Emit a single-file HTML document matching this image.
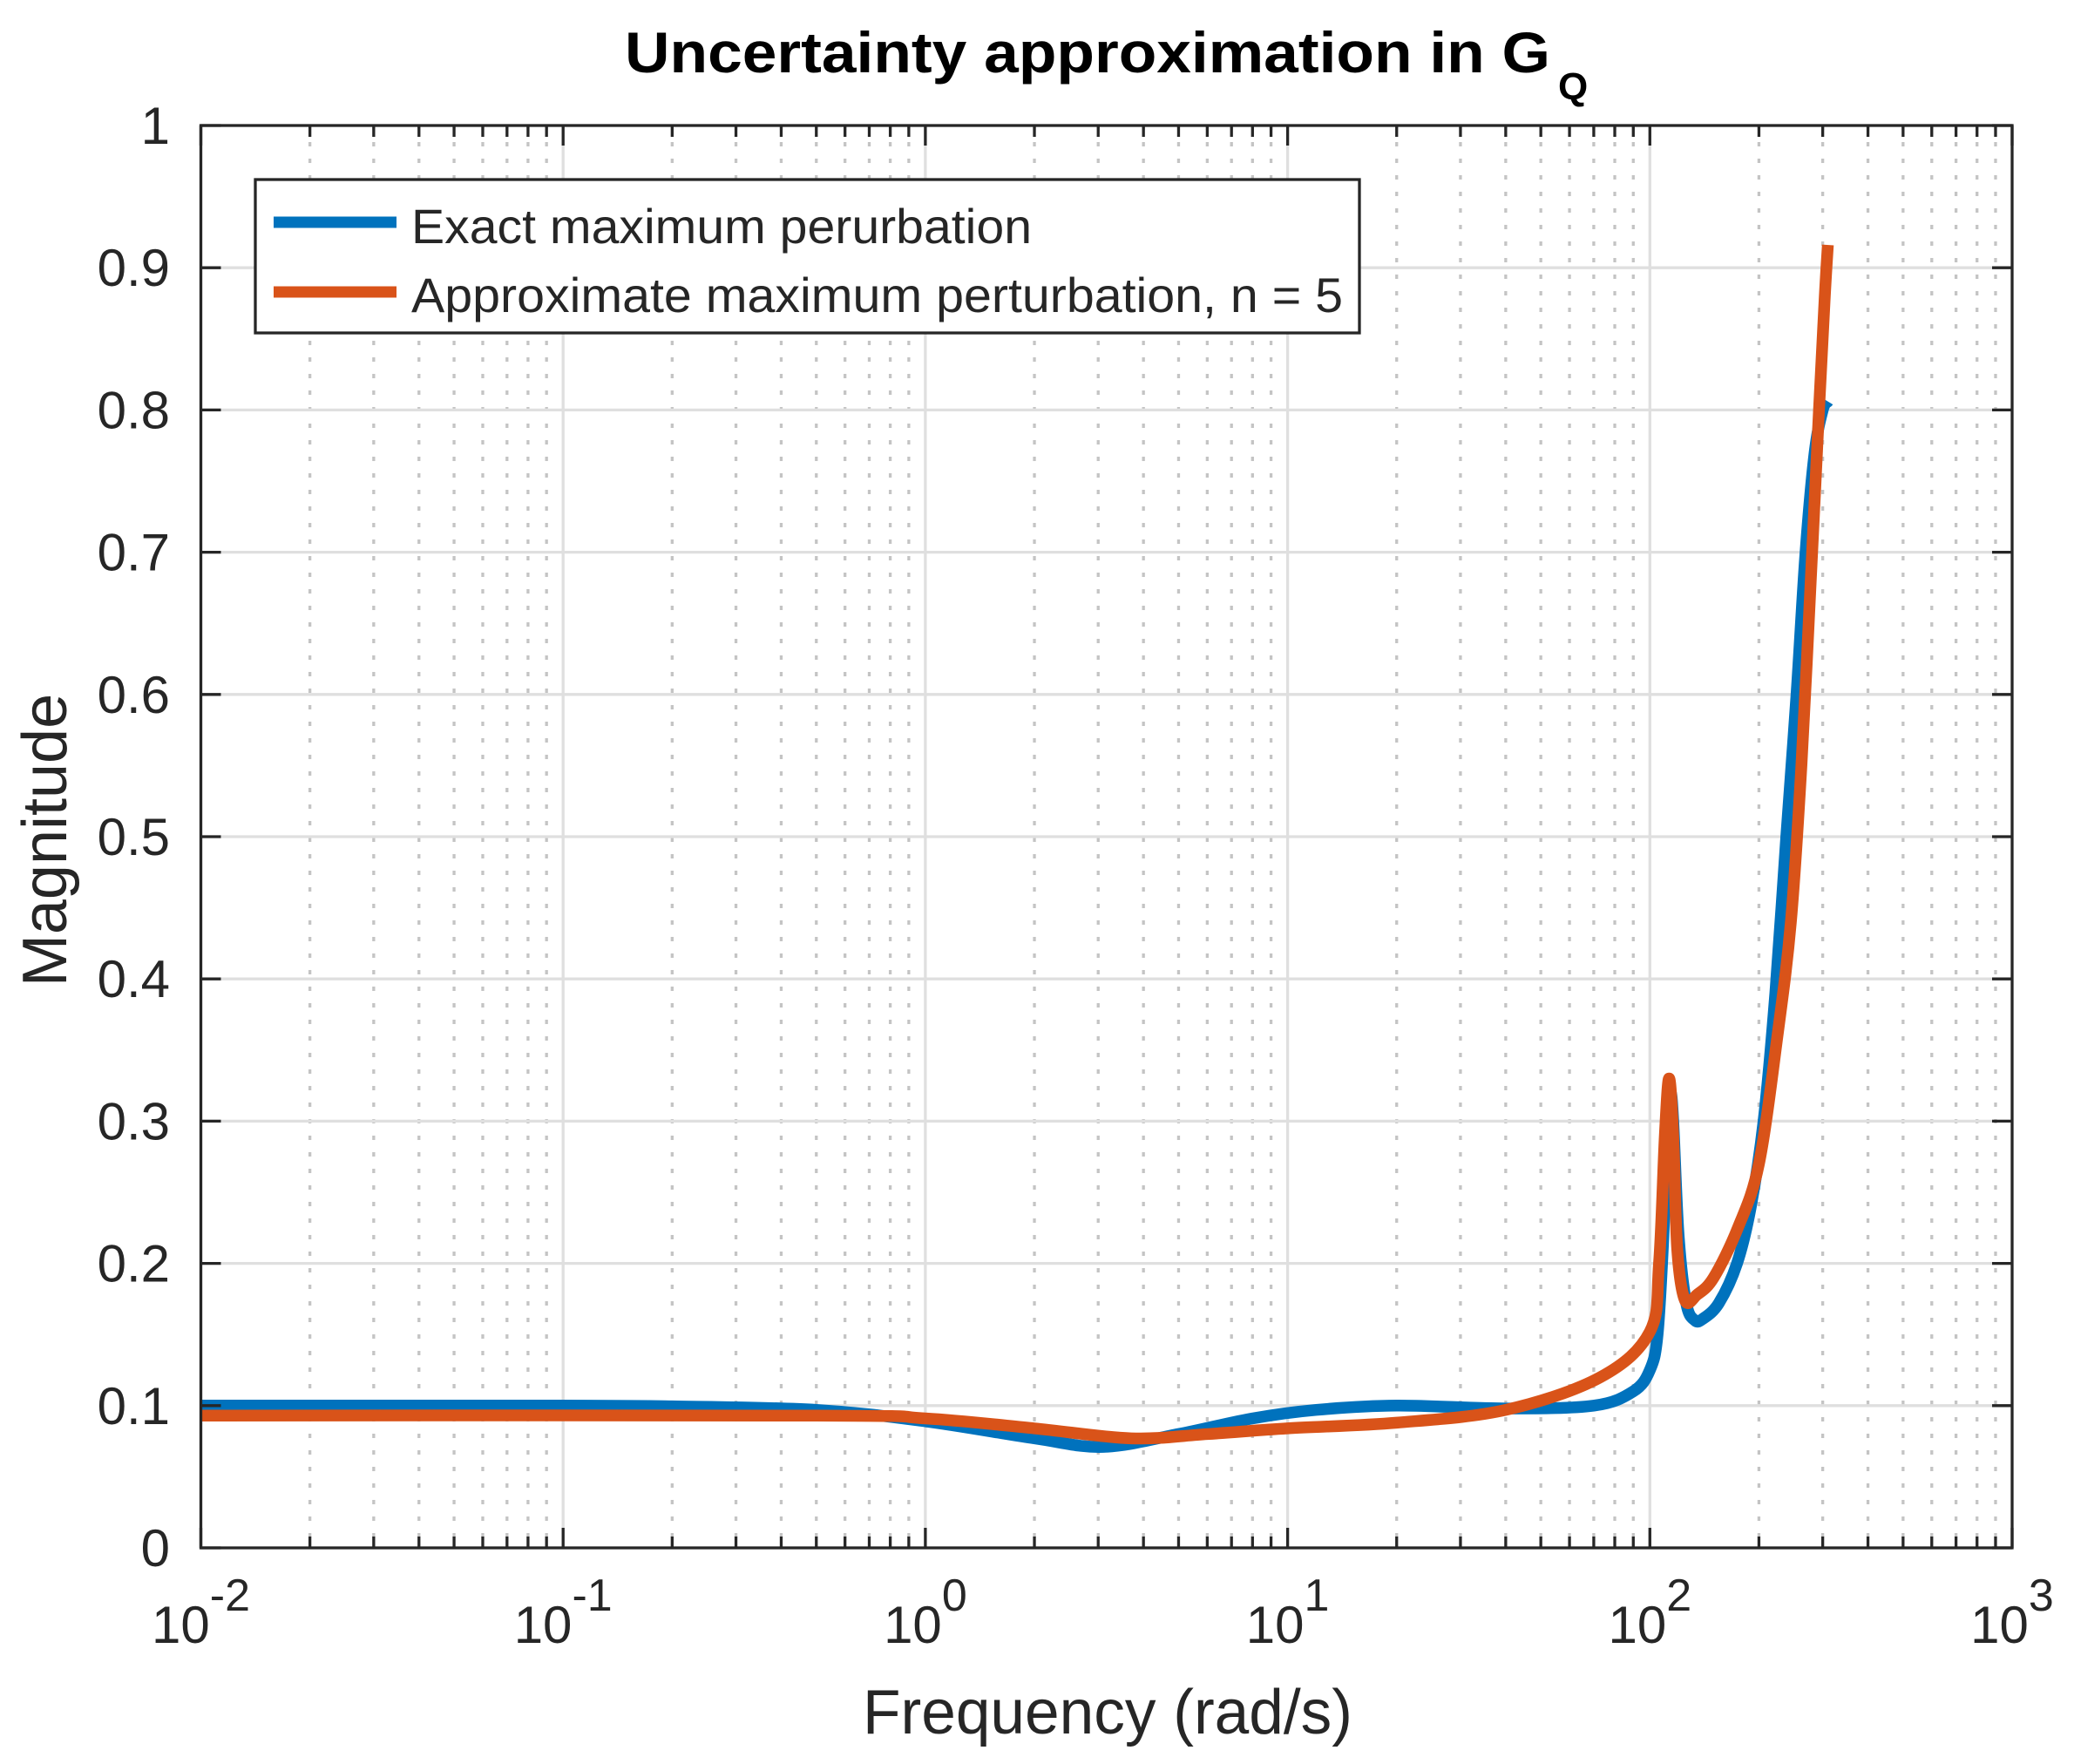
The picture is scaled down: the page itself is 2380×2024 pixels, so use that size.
<!DOCTYPE html>
<html><head><meta charset="utf-8"><style>
html,body{margin:0;padding:0;background:#fff;}
svg{display:block;}
text{font-family:"Liberation Sans",Arial,sans-serif;fill:#262626;}
</style></head><body>
<svg id="s" width="2380" height="2024" viewBox="0 0 2380 2024" xmlns="http://www.w3.org/2000/svg">
<rect width="2380" height="2024" fill="#fff"/>
<g id="grid"></g>
<g id="curves" fill="none" stroke-width="13.5" stroke-linejoin="round" stroke-linecap="butt"></g>
<g id="axes"></g>
<g id="labels"></g>
<text x="717" y="83" font-size="66" font-weight="bold" style="fill:#000" textLength="1062" lengthAdjust="spacingAndGlyphs">Uncertainty approximation in G</text>
<text x="1788" y="114" font-size="44" font-weight="bold" style="fill:#000">Q</text>
<text x="990" y="1989" font-size="72" textLength="562" lengthAdjust="spacingAndGlyphs">Frequency (rad/s)</text>
<text transform="translate(76,964) rotate(-90)" text-anchor="middle" font-size="72">Magnitude</text>
<g id="legend">
<rect x="293" y="206" width="1267" height="176" fill="#fff" stroke="#262626" stroke-width="3.3"/>
<line x1="314" y1="255" x2="455" y2="255" stroke="#0072BD" stroke-width="13"/>
<line x1="314" y1="335" x2="455" y2="335" stroke="#D95319" stroke-width="13"/>
<text x="472" y="279" font-size="56" textLength="712" lengthAdjust="spacingAndGlyphs">Exact maximum perurbation</text>
<text x="472" y="358" font-size="56" textLength="1069" lengthAdjust="spacingAndGlyphs">Approximate maximum perturbation, n = 5</text>
</g>
</svg>
<script>
const NS="http://www.w3.org/2000/svg";
const L=230.5,R=2309,T=144,B=1776,D=(R-L)/5,H=B-T;
const X=f=>L+(Math.log10(f)+2)*D, Y=v=>B-v*H;
function el(p,tag,a,txt){const e=document.createElementNS(NS,tag);for(const k in a)e.setAttribute(k,a[k]);if(txt!==undefined)e.textContent=txt;document.getElementById(p).appendChild(e);return e;}
for(let d=-2;d<3;d++)for(let m=2;m<10;m++){const x=X(m*Math.pow(10,d));
 el('grid','line',{x1:x,y1:T,x2:x,y2:B,stroke:'#c4c4c4','stroke-width':3.3,'stroke-dasharray':'5 14'});}
for(let d=-1;d<3;d++){const x=X(Math.pow(10,d));el('grid','line',{x1:x,y1:T,x2:x,y2:B,stroke:'#dfdfdf','stroke-width':3.3});}
for(let i=1;i<10;i++){const y=Y(i/10);el('grid','line',{x1:L,y1:y,x2:R,y2:y,stroke:'#dfdfdf','stroke-width':3.3});}
el('axes','rect',{x:L,y:T,width:R-L,height:B-T,fill:'none',stroke:'#262626','stroke-width':3.3});
for(let d=-2;d<=3;d++){const x=X(Math.pow(10,d));
 el('axes','line',{x1:x,y1:B,x2:x,y2:B-23,stroke:'#262626','stroke-width':3.3});
 el('axes','line',{x1:x,y1:T,x2:x,y2:T+23,stroke:'#262626','stroke-width':3.3});
 const g=el('labels','text',{x:x,y:1885,'font-size':60,'text-anchor':'middle'});
 g.appendChild(document.createTextNode('10'));
 const t=document.createElementNS(NS,'tspan');t.setAttribute('dy','-37');t.setAttribute('font-size','52');t.textContent=(d<0?'-':'')+Math.abs(d);g.appendChild(t);
 if(d<3)for(let m=2;m<10;m++){const xm=X(m*Math.pow(10,d));
  el('axes','line',{x1:xm,y1:B,x2:xm,y2:B-13,stroke:'#262626','stroke-width':3.3});
  el('axes','line',{x1:xm,y1:T,x2:xm,y2:T+13,stroke:'#262626','stroke-width':3.3});}
}
for(let i=0;i<=10;i++){const y=Y(i/10);
 el('axes','line',{x1:L,y1:y,x2:L+23,y2:y,stroke:'#262626','stroke-width':3.3});
 el('axes','line',{x1:R,y1:y,x2:R-23,y2:y,stroke:'#262626','stroke-width':3.3});
 el('labels','text',{x:195,y:y+21,'font-size':60,'text-anchor':'end'},i==0?'0':i==10?'1':(i/10).toFixed(1));}
function path(pts){const p=pts.map(a=>[X(a[0]),Y(a[1])]);let s='M'+p[0][0]+','+p[0][1];
 for(let i=0;i<p.length-1;i++){const p0=p[Math.max(0,i-1)],p1=p[i],p2=p[i+1],p3=p[Math.min(p.length-1,i+2)];
  const c1=[p1[0]+(p2[0]-p0[0])/6,p1[1]+(p2[1]-p0[1])/6],c2=[p2[0]-(p3[0]-p1[0])/6,p2[1]-(p3[1]-p1[1])/6];
  s+=' C'+c1.join(',')+' '+c2.join(',')+' '+p2.join(',');}return s;}
const blue=[[0.01,.1],[0.1,.1],[0.2,.0995],[0.5,.097],[1,.089],[2,.077],[3.1,.071],[5,.08],[8,.091],[12,.097],[20,.1],[40,.098],[70,.1],[90,.11],[100,.125],[105,.15],[109,.22],[112,.3],[114,.32],[116,.3],[120,.22],[126,.172],[133,.16],[140,.161],[155,.172],[174,.2],[190,.24],[206,.3],[222,.39],[238,.5],[254,.6],[269,.7],[285,.77],[300,.8],[310,.806]];
const orange=[[0.01,.093],[0.5,.093],[1,.091],[2,.084],[3.7,.077],[6,.08],[10,.084],[20,.088],[40,.097],[73,.12],[100,.152],[106,.2],[110,.29],[113,.33],[116,.29],[119,.21],[125,.174],[135,.178],[150,.19],[175,.225],[200,.27],[225,.36],[245,.44],[262,.55],[278,.68],[293,.8],[304,.88],[310,.916]];
el('curves','path',{d:path(blue),stroke:'#0072BD'});
el('curves','path',{d:path(orange),stroke:'#D95319'});
</script>
</body></html>
